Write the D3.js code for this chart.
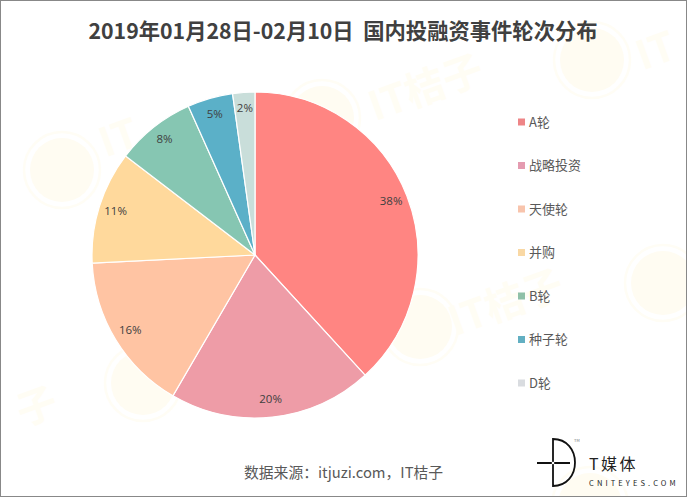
<!DOCTYPE html>
<html>
<head>
<meta charset="utf-8">
<script src="https://cdn.jsdelivr.net/npm/d3@7"></script>
<style>
    body { margin: 0; background: #fff; }
    text { font-family: "Noto Sans CJK SC", "Noto Sans", sans-serif; }
</style>
</head>
<body>
<svg id="chart" width="687" height="497"></svg>
<script>
var categories = ['A轮', '战略投资', '天使轮', '并购', 'B轮', '种子轮', 'D轮'];
var shares = [38.2, 20.2, 15.8, 11.2, 7.9, 4.5, 2.2];
var sliceColors = ['#ff8582', '#ee9ca7', '#ffc4a3', '#ffd99c', '#86c6b2', '#5bb0c8', '#c9deda'];
var legendColors = ['#ee8587', '#e49bb0', '#f8c4ac', '#f9d8a4', '#8fc0a8', '#62afc2', '#d9dce0'];

var titleText = '2019年01月28日-02月10日  国内投融资事件轮次分布';
var sourceText = '数据来源：itjuzi.com，IT桔子';

// watermark, very faint
var lemonSpots = [[62, 170], [592, 60], [420, 327], [143, 383], [663, 283], [590, 505], [322, 118]];
var markSpots = [[425, 85], [505, 300], [36, 404], [655, 48], [118, 135]];
var markTexts = ['IT桔子', 'IT桔子', '子', 'IT', 'IT'];

var svg = d3.select('#chart');
var cx = 255, cy = 255, radius = 163;

//watermark
var lemons = svg.append('g').selectAll('g')
    .data(lemonSpots)
    .enter().append('g')
    .attr('transform', (d) => { return 'translate(' + d[0] + ',' + d[1] + ')'; });
lemons.append('circle')
    .attr('r', 38)
    .attr('fill', 'none')
    .attr('stroke', '#fffdf5')
    .attr('stroke-width', 2.5);
lemons.append('circle')
    .attr('r', 32)
    .attr('fill', '#fffcf2');

svg.append('g').selectAll('text')
    .data(markSpots)
    .enter().append('text')
    .attr('transform', (d) => { return 'translate(' + d[0] + ',' + d[1] + ') rotate(-20)'; })
    .attr('text-anchor', 'middle')
    .attr('dominant-baseline', 'central')
    .attr('font-size', 40)
    .attr('font-weight', 700)
    .attr('fill', '#fffdf4')
    .text((d, i) => { return markTexts[i]; });

//pie
var pie = d3.pie().sort(null).value((d) => { return d; });
var arc = d3.arc().innerRadius(0).outerRadius(radius);
var labelArc = d3.arc().innerRadius(146).outerRadius(146);
var color = d3.scaleOrdinal().domain(categories).range(sliceColors);
var legendColor = d3.scaleOrdinal().domain(categories).range(legendColors);

var pieGroup = svg.append('g').attr('transform', 'translate(' + cx + ',' + cy + ')');
var slices = pie(shares);

pieGroup.selectAll('path')
    .data(slices)
    .enter().append('path')
    .attr('d', arc)
    .attr('fill', (d, i) => { return color(categories[i]); })
    .attr('stroke', '#fff')
    .attr('stroke-width', 1.2);

pieGroup.selectAll('text')
    .data(slices)
    .enter().append('text')
    .attr('transform', (d) => { return 'translate(' + labelArc.centroid(d) + ')'; })
    .attr('y', -1.5)
    .attr('text-anchor', 'middle')
    .attr('dominant-baseline', 'central')
    .attr('font-size', 11.5)
    .attr('fill', '#404040')
    .style('font-family', '"Open Sans", sans-serif')
    .text((d) => { return Math.round(d.data) + '%'; });

//legend
var legendY = d3.scalePoint().domain(categories).range([122, 383]);
var legend = svg.append('g').selectAll('g')
    .data(categories)
    .enter().append('g')
    .attr('transform', (d) => { return 'translate(518,' + legendY(d) + ')'; });
legend.append('rect')
    .attr('y', -3.5)
    .attr('width', 7)
    .attr('height', 7)
    .attr('fill', (d) => { return legendColor(d); });
legend.append('text')
    .attr('x', 11)
    .attr('y', -1)
    .attr('dominant-baseline', 'central')
    .attr('font-size', 13)
    .attr('fill', '#595959')
    .text((d) => { return d; });

//title and source
svg.append('text')
    .attr('x', 343)
    .attr('y', 29.5)
    .attr('text-anchor', 'middle')
    .attr('dominant-baseline', 'central')
    .attr('font-size', 21.3)
    .attr('font-weight', 700)
    .attr('fill', '#404040')
    .style('white-space', 'pre')
    .text(titleText);

svg.append('text')
    .attr('x', 244)
    .attr('y', 471)
    .attr('dominant-baseline', 'central')
    .attr('font-size', 14.8)
    .attr('fill', '#595959')
    .text(sourceText);

//logo
var logo = svg.append('g');
logo.append('path')
    .attr('d', 'M553 439 C567 439 575 450 575 462.5 C575 475 567 486 553 486 Z')
    .attr('fill', 'none')
    .attr('stroke', '#111')
    .attr('stroke-width', 1.8);
logo.append('line')
    .attr('x1', 537).attr('x2', 570).attr('y1', 463).attr('y2', 463)
    .attr('stroke', '#111')
    .attr('stroke-width', 1.8);
logo.append('circle')
    .attr('cx', 553).attr('cy', 463).attr('r', 1.3)
    .attr('fill', '#fff');
logo.append('text')
    .attr('x', 574).attr('y', 442)
    .attr('font-size', 4)
    .attr('fill', '#777')
    .text('TM');
logo.append('text')
    .attr('x', 589).attr('y', 470)
    .attr('font-size', 16)
    .attr('letter-spacing', 2.4)
    .attr('fill', '#222')
    .text('T媒体');
logo.append('text')
    .attr('x', 589).attr('y', 486)
    .attr('font-size', 7.5)
    .attr('letter-spacing', 3.1)
    .attr('fill', '#222')
    .text('CNITEYES.COM');

//frame
svg.append('rect')
    .attr('x', 0.5).attr('y', 0.5)
    .attr('width', 686).attr('height', 496)
    .attr('fill', 'none')
    .attr('stroke', '#888');
</script>
</body>
</html>
